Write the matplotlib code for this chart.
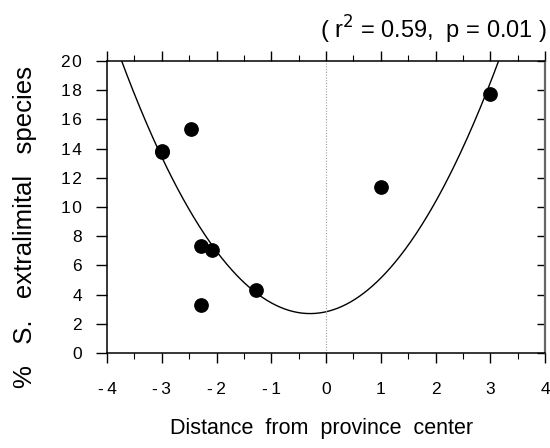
import numpy as np
import matplotlib
matplotlib.use("Agg")
import matplotlib.pyplot as plt
import matplotlib.lines as mlines
from matplotlib.ticker import FixedLocator, FuncFormatter

plt.rcParams['font.family'] = ['Liberation Sans', 'DejaVu Sans']

# Data
distance = [-3.0, -3.0, -2.47, -2.29, -2.08, -2.28, -1.27, 1.0, 3.0]
pct_extralimital = [13.75, 13.85, 15.35, 7.33, 7.05, 3.3, 4.3, 11.4, 17.75]

# Quadratic fit: y = a*(x-h)^2 + k
fit_a = 1.46
fit_h = -0.29
fit_k = 2.7

x_ticks = [-4, -3, -2, -1, 0, 1, 2, 3, 4]
y_ticks = [0, 2, 4, 6, 8, 10, 12, 14, 16, 18, 20]
title_text = "( r$^2$ = 0.59,  p = 0.01 )"
xlabel_text = "Distance  from  province  center"
ylabel_text = "%   S.   extralimital   species"

THIN = "\u200a"

fig = plt.figure(figsize=(5.5, 4.48), dpi=100)
ax = fig.add_axes([107/550, 1 - 353/448, (545 - 107)/550, (353 - 61)/448])

ax.set_xlim(-4, 4)
ax.set_ylim(0, 20)

xs = np.linspace(-4, 4, 400)
ys = fit_a * (xs - fit_h) ** 2 + fit_k
ax.plot(xs, ys, color='black', lw=1.0, clip_on=True)

ax.axvline(0, color='#999999', lw=0.8, ls=(0, (1, 1.5)))

ax.scatter(distance, pct_extralimital, s=92, color='black', zorder=5, clip_on=False)

for s in ['left', 'bottom', 'top']:
    ax.spines[s].set_linewidth(1.1)
ax.spines['right'].set_linewidth(1.6)
ax.spines['right'].set_color('#666666')

ax.xaxis.set_major_locator(FixedLocator(x_ticks))
ax.xaxis.set_minor_locator(FixedLocator([v + 0.5 for v in x_ticks[:-1]]))
ax.yaxis.set_major_locator(FixedLocator(y_ticks))

ax.xaxis.set_major_formatter(FuncFormatter(lambda v, p: ("-\u2009%d" % abs(v)) if v < 0 else "%d" % v))
ax.yaxis.set_major_formatter(FuncFormatter(lambda v, p: THIN.join(str(int(v)))))

ax.tick_params(axis='x', which='major', direction='out', length=7, width=1.0,
               top=True, labeltop=False, labelsize=12.5, pad=14)
ax.tick_params(axis='x', which='minor', direction='out', length=4, width=0.8, top=True)
ax.tick_params(axis='y', which='major', direction='out', length=8, width=1.0,
               labelsize=12.5, pad=10, right=True, labelright=False)
for t in ax.yaxis.get_major_ticks():
    t.tick2line.set_marker(mlines.TICKLEFT)
    t.tick2line.set_markersize(6)

fig.text(322/550, 1 - 428/448, xlabel_text, ha='center', va='center', fontsize=15.5)
fig.text(25/550, 1 - 227/448, ylabel_text, ha='center', va='center', rotation=90, fontsize=18.5)
fig.text(547/550, 1 - 30/448, title_text, ha='right', va='center', fontsize=17)

fig.savefig("out.png", dpi=100)
